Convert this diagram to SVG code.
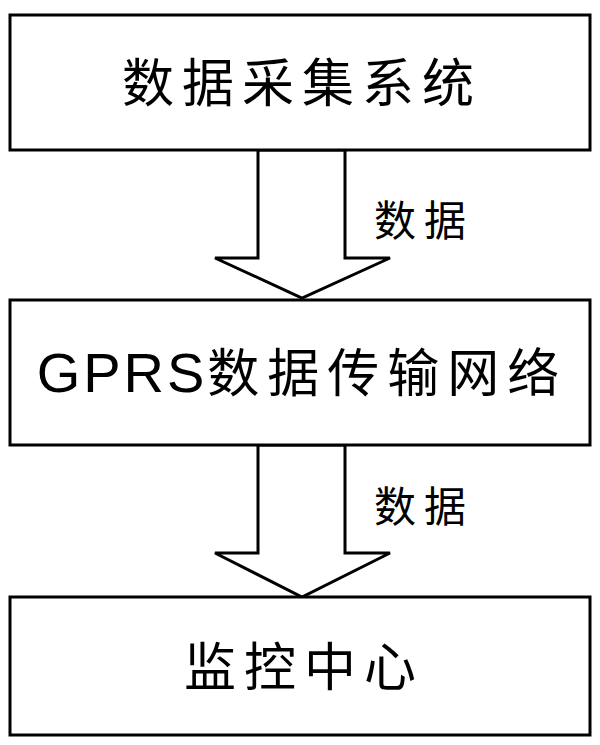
<svg xmlns="http://www.w3.org/2000/svg" width="600" height="745" viewBox="0 0 600 745">
<style>
.box{fill:#fff;stroke:#000;stroke-width:3}
.arr{fill:#fff;stroke:#000;stroke-width:3;stroke-linejoin:miter}
.t{font-family:"Liberation Sans","Noto Sans CJK SC",sans-serif;font-size:52px;letter-spacing:8px;text-anchor:middle;fill:#000}
.l{font-family:"Liberation Sans","Noto Sans CJK SC",sans-serif;font-size:42px;letter-spacing:8px;fill:#000}
</style>
<rect width="600" height="745" fill="#fff"/>
<g id="connectors">
<polygon class="arr" points="258,150 345,150 345,258 390,258 302,298 215,258 258,258"/>
<polygon class="arr" points="258,445 345,445 345,553 390,553 302,597 215,553 258,553"/>
<text class="l" x="374" y="236">数据</text>
<text class="l" x="374" y="522">数据</text>
</g>
<g id="n1"><rect class="box" x="10" y="15" width="580" height="135"/><text class="t" x="302" y="102">数据采集系统</text></g>
<g id="n2"><rect class="box" x="10" y="300" width="580" height="145"/><text class="t" x="302" y="392"><tspan style="font-size:56px;letter-spacing:3px">GPRS</tspan>数据传输网络</text></g>
<g id="n3"><rect class="box" x="10" y="597" width="580" height="138"/><text class="t" x="304" y="686">监控中心</text></g>
</svg>
